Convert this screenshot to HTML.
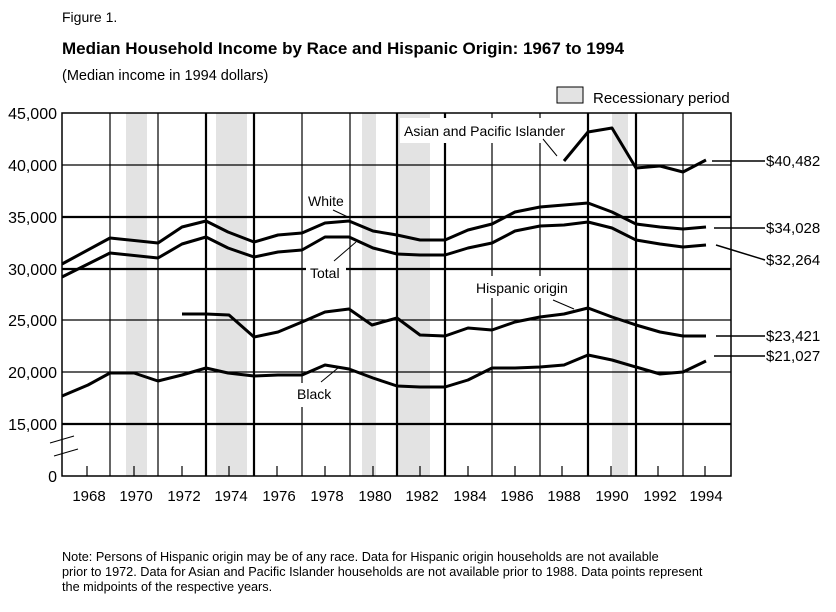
<!DOCTYPE html>
<html><head><style>
body{margin:0;background:#fff;}
svg{display:block;font-family:"Liberation Sans",Arial,sans-serif;}
</style></head><body>
<svg width="836" height="612" viewBox="0 0 836 612" xmlns="http://www.w3.org/2000/svg">
<rect width="836" height="612" fill="#fff"/>
<text x="62" y="22" font-size="14">Figure 1.</text>
<text x="62" y="54" font-size="17" font-weight="bold">Median Household Income by Race and Hispanic Origin:  1967 to 1994</text>
<text x="62" y="80" font-size="14.5">(Median income in 1994 dollars)</text>
<rect x="557" y="87" width="26" height="16" fill="#e3e3e3" stroke="#000" stroke-width="1"/>
<text x="593" y="103" font-size="15">Recessionary period</text>
<g fill="#e3e3e3">
<rect x="126" y="113" width="21" height="363"/>
<rect x="216" y="113" width="31" height="363"/>
<rect x="362" y="113" width="14" height="363"/>
<rect x="396" y="113" width="34" height="363"/>
<rect x="612" y="113" width="16" height="363"/>
</g>
<g stroke="#000" stroke-width="1.2">
<line x1="62" y1="165" x2="731" y2="165"/>
<line x1="62" y1="320" x2="731" y2="320"/>
<line x1="62" y1="372" x2="731" y2="372"/>
<line x1="110" y1="113" x2="110" y2="476"/>
<line x1="158" y1="113" x2="158" y2="476"/>
<line x1="302" y1="113" x2="302" y2="476"/>
<line x1="350" y1="113" x2="350" y2="476"/>
<line x1="492" y1="113" x2="492" y2="476"/>
<line x1="540" y1="113" x2="540" y2="476"/>
<line x1="683" y1="113" x2="683" y2="476"/>
</g>
<g stroke="#000" stroke-width="2.2">
<line x1="62" y1="217" x2="731" y2="217"/>
<line x1="62" y1="269" x2="731" y2="269"/>
<line x1="62" y1="424" x2="731" y2="424"/>
<line x1="206" y1="113" x2="206" y2="476"/>
<line x1="254" y1="113" x2="254" y2="476"/>
<line x1="397" y1="113" x2="397" y2="476"/>
<line x1="445" y1="113" x2="445" y2="476"/>
<line x1="588" y1="113" x2="588" y2="476"/>
<line x1="636" y1="113" x2="636" y2="476"/>
</g>
<rect x="62" y="113" width="669" height="363" fill="none" stroke="#000" stroke-width="1.5"/>
<g stroke="#000" stroke-width="1.2">
<line x1="87" y1="466" x2="87" y2="476"/><line x1="134" y1="466" x2="134" y2="476"/>
<line x1="182" y1="466" x2="182" y2="476"/><line x1="229" y1="466" x2="229" y2="476"/>
<line x1="277" y1="466" x2="277" y2="476"/><line x1="325" y1="466" x2="325" y2="476"/>
<line x1="373" y1="466" x2="373" y2="476"/><line x1="420" y1="466" x2="420" y2="476"/>
<line x1="468" y1="466" x2="468" y2="476"/><line x1="515" y1="466" x2="515" y2="476"/>
<line x1="562" y1="466" x2="562" y2="476"/><line x1="611" y1="466" x2="611" y2="476"/>
<line x1="658" y1="466" x2="658" y2="476"/><line x1="705" y1="466" x2="705" y2="476"/>
</g>
<g stroke="#000" stroke-width="1">
<line x1="50" y1="443" x2="74" y2="436"/>
<line x1="54" y1="456" x2="78" y2="449"/>
</g>
<g fill="#fff">
<rect x="400" y="118" width="168" height="25"/>
<rect x="304" y="190" width="44" height="24"/>
<rect x="306" y="262" width="40" height="20"/>
<rect x="472" y="276" width="84" height="22"/>
<rect x="292" y="383" width="42" height="24"/>
</g>
<g font-size="16" text-anchor="end">
<text x="57" y="119">45,000</text><text x="57" y="171">40,000</text>
<text x="57" y="223">35,000</text><text x="57" y="275">30,000</text>
<text x="57" y="326">25,000</text><text x="57" y="378">20,000</text>
<text x="57" y="430">15,000</text><text x="57" y="482">0</text>
</g>
<g font-size="15" text-anchor="middle">
<text x="89" y="501">1968</text><text x="136" y="501">1970</text><text x="184" y="501">1972</text>
<text x="231" y="501">1974</text><text x="279" y="501">1976</text><text x="327" y="501">1978</text>
<text x="375" y="501">1980</text><text x="422" y="501">1982</text><text x="470" y="501">1984</text>
<text x="517" y="501">1986</text><text x="564" y="501">1988</text><text x="612" y="501">1990</text>
<text x="660" y="501">1992</text><text x="706" y="501">1994</text>
</g>
<g fill="none" stroke="#000" stroke-width="3" stroke-linejoin="round">
<polyline points="62,264 110,238 158,243 182,227 206,221 228,232 254,242 278,235 302,233 325,223 349,221 373,231 397,235 420,240 445,240 468,230 492,224 515,212 540,207 564,205 588,203 612,212 636,224 660,227 683,229 706,227"/>
<polyline points="62,277 110,253 158,258 182,244 206,237 228,248 254,257 278,252 302,250 325,237 349,237 373,248 397,254 420,255 445,255 468,248 492,243 515,231 540,226 564,225 588,222 612,228 636,240 660,244 683,247 706,245"/>
<polyline points="182,314 206,314 229,315 254,337 278,332 302,322 325,312 349,309 372,325 397,318 420,335 445,336 468,328 492,330 515,322 540,317 564,314 588,308 612,317 636,325 660,332 683,336 706,336"/>
<polyline points="62,396 88,385 110,373 134,373 158,381 182,375 206,368 228,373 254,376 278,375 302,375 325,365 349,369 373,378 397,386 420,387 445,387 468,380 492,368 515,368 540,367 564,365 588,355 612,360 636,367 660,374 683,372 706,361"/>
<polyline points="564,161 588,132 612,128 636,168 660,166 683,172 706,160"/>
</g>
<g stroke="#000" stroke-width="1">
<line x1="543" y1="139" x2="557" y2="156"/>
<line x1="333" y1="210" x2="350" y2="218"/>
<line x1="334" y1="261" x2="356" y2="242"/>
<line x1="553" y1="300" x2="574" y2="309"/>
<line x1="321" y1="382" x2="338" y2="368"/>
</g>
<g stroke="#000" stroke-width="1.5">
<line x1="712" y1="161" x2="765" y2="161"/>
<line x1="714" y1="228" x2="765" y2="228"/>
<line x1="716" y1="245" x2="765" y2="260"/>
<line x1="716" y1="336" x2="765" y2="336"/>
<line x1="714" y1="356" x2="765" y2="356"/>
</g>
<g font-size="14">
<text x="404" y="136">Asian and Pacific Islander</text>
<text x="308" y="206">White</text>
<text x="310" y="278">Total</text>
<text x="476" y="293">Hispanic origin</text>
<text x="297" y="399">Black</text>
</g>
<g font-size="15">
<text x="766" y="166">$40,482</text>
<text x="766" y="233">$34,028</text>
<text x="766" y="265">$32,264</text>
<text x="766" y="341">$23,421</text>
<text x="766" y="361">$21,027</text>
</g>
<g font-size="12.7">
<text x="62" y="561">Note:  Persons of Hispanic origin may be of any race.  Data for Hispanic origin households are not available</text>
<text x="62" y="576">prior to 1972.  Data for Asian and Pacific Islander households are not available prior to 1988. Data points represent</text>
<text x="62" y="591">the midpoints of the respective years.</text>
</g>
</svg>
</body></html>
